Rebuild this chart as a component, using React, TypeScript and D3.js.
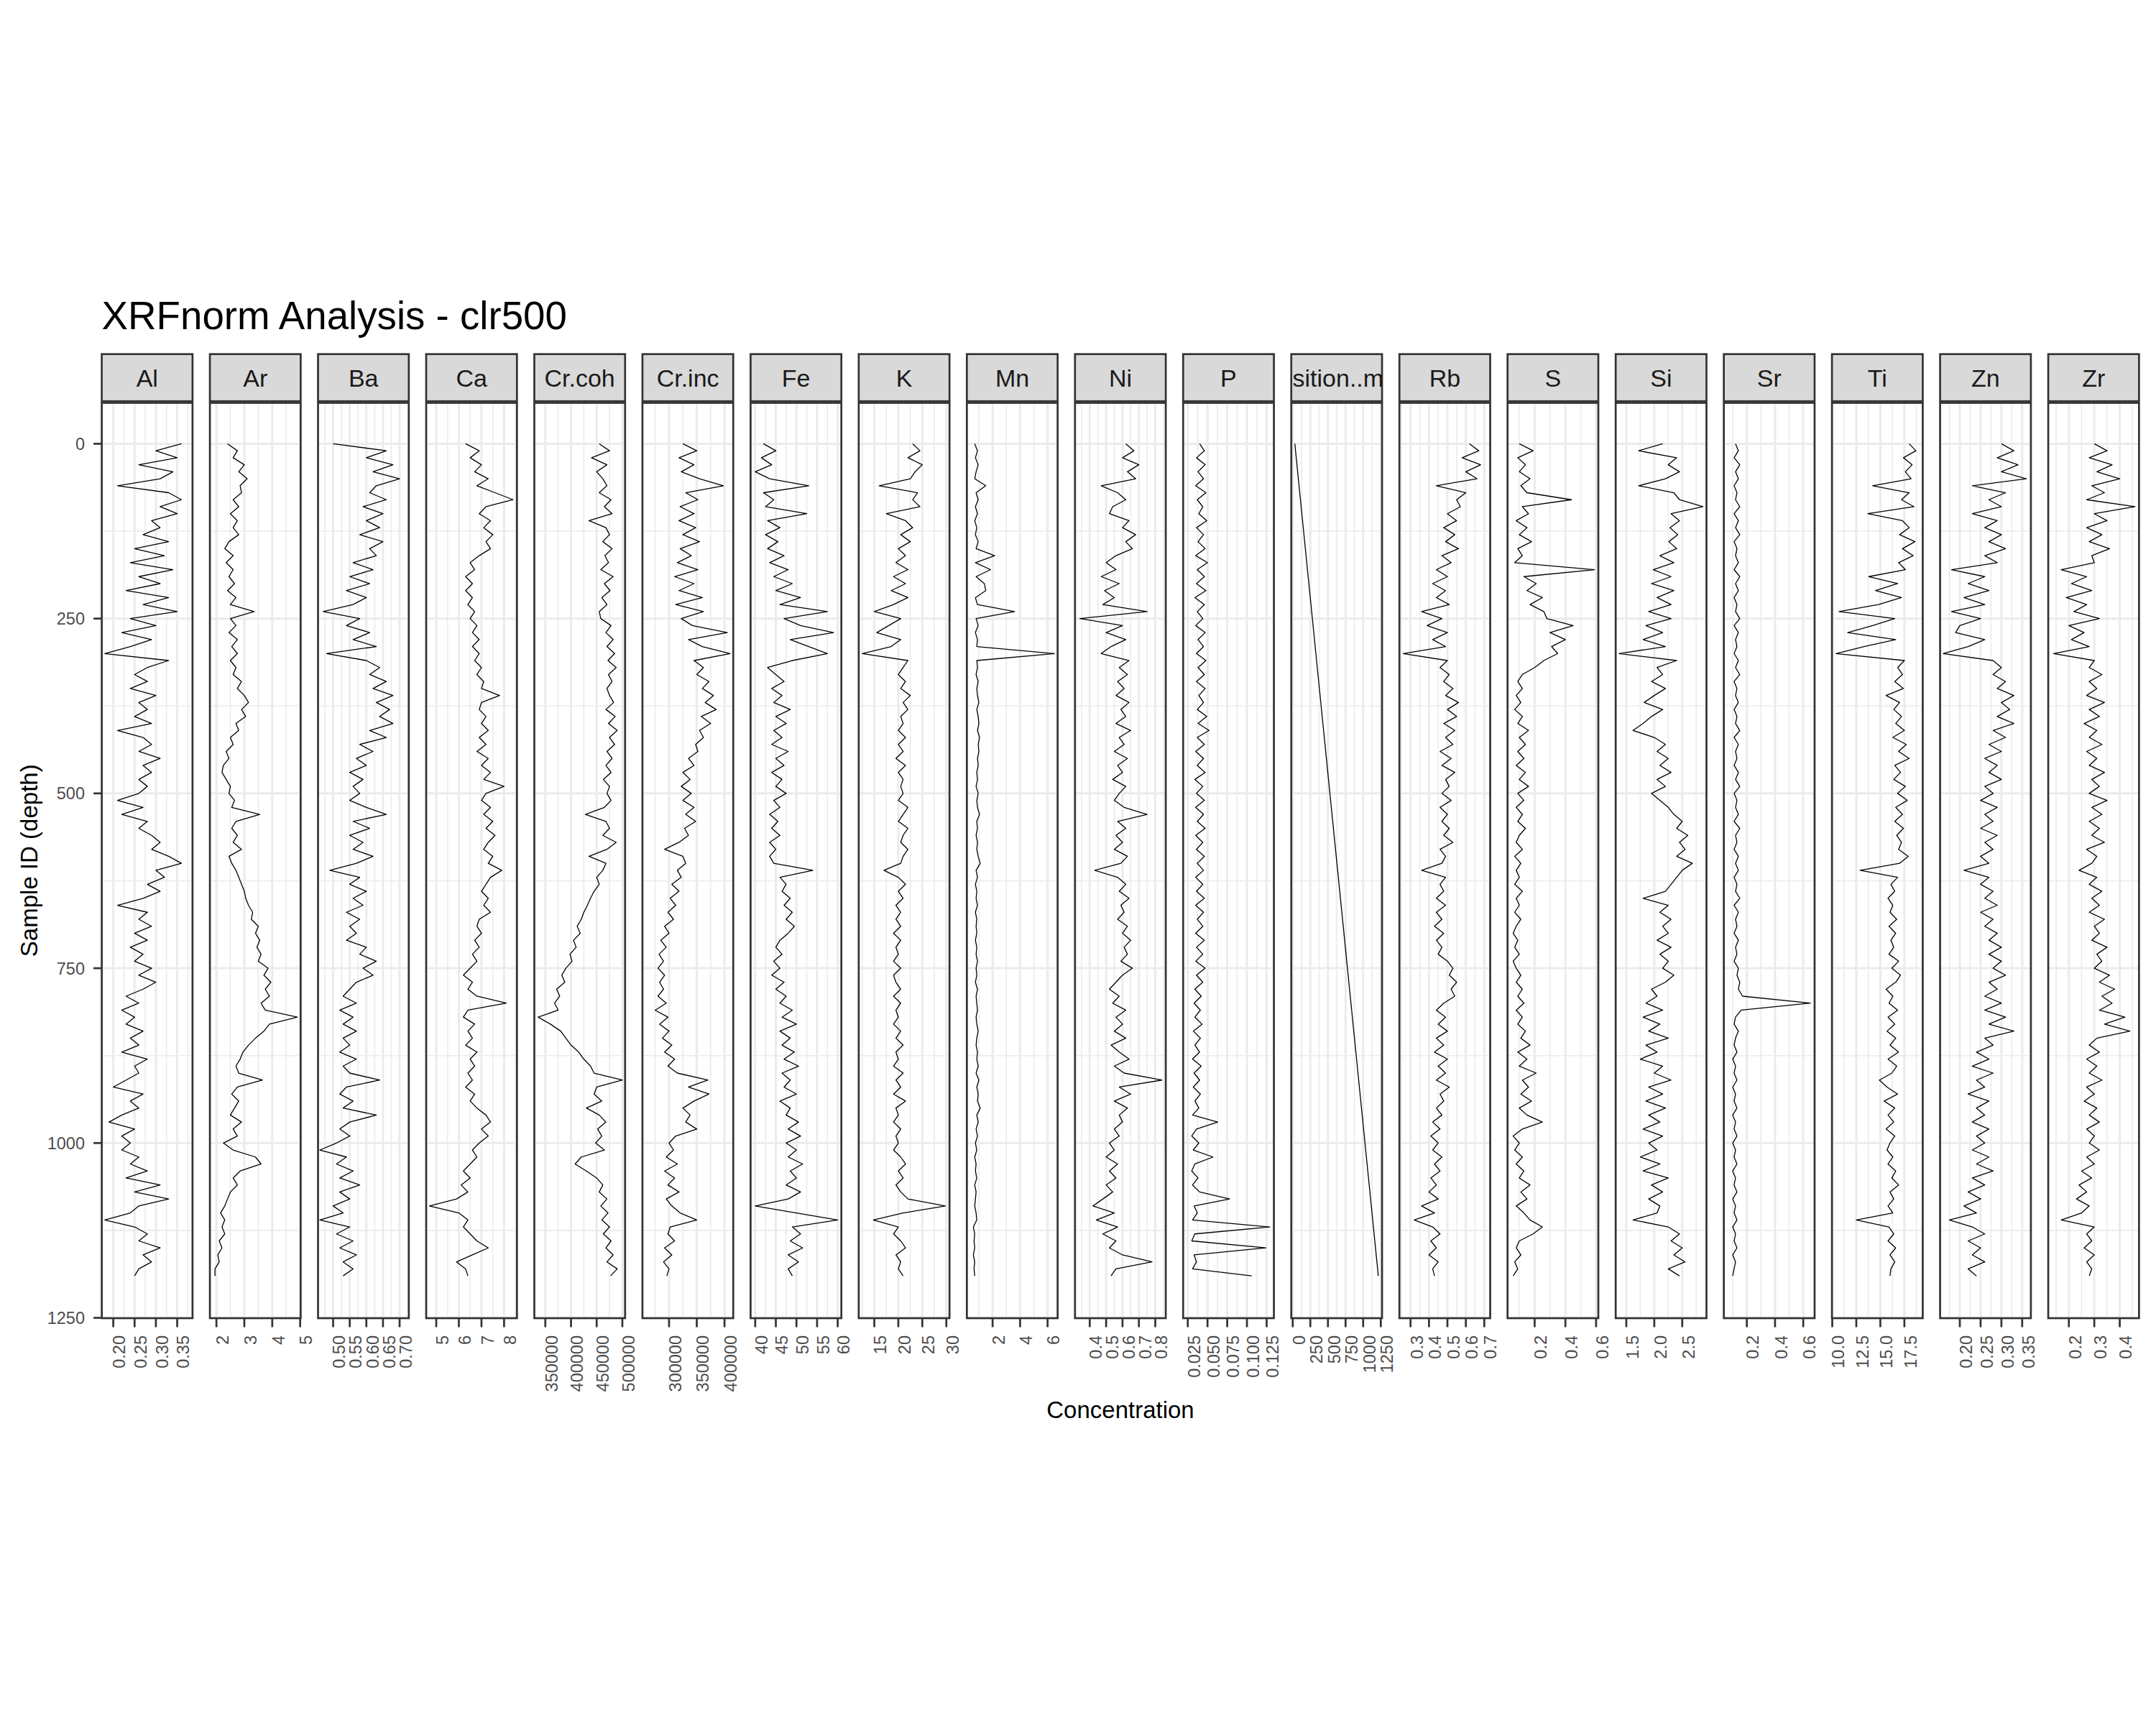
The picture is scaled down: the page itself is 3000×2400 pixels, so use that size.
import React from 'react';
import * as d3 from 'd3';

// Sample IDs (depth) on the y axis
const sampleIds = [
  0, 10, 20, 30, 40, 50, 60, 70, 80, 90,
  100, 110, 120, 130, 140, 150, 160, 170, 180, 190,
  200, 210, 220, 230, 240, 250, 260, 270, 280, 290,
  300, 310, 320, 330, 340, 350, 360, 370, 380, 390,
  400, 410, 420, 430, 440, 450, 460, 470, 480, 490,
  500, 510, 520, 530, 540, 550, 560, 570, 580, 590,
  600, 610, 620, 630, 640, 650, 660, 670, 680, 690,
  700, 710, 720, 730, 740, 750, 760, 770, 780, 790,
  800, 810, 820, 830, 840, 850, 860, 870, 880, 890,
  900, 910, 920, 930, 940, 950, 960, 970, 980, 990,
  1000, 1010, 1020, 1030, 1040, 1050, 1060, 1070, 1080, 1090,
  1100, 1110, 1120, 1130, 1140, 1150, 1160, 1170, 1180, 1190,
];

const alValues = [
  0.36, 0.30, 0.35, 0.26, 0.34, 0.31, 0.21, 0.33, 0.36, 0.31,
  0.35, 0.29, 0.31, 0.27, 0.33, 0.25, 0.32, 0.24, 0.34, 0.26,
  0.31, 0.23, 0.33, 0.27, 0.35, 0.24, 0.30, 0.22, 0.29, 0.24,
  0.18, 0.33, 0.28, 0.25, 0.28, 0.24, 0.30, 0.26, 0.28, 0.25,
  0.29, 0.21, 0.27, 0.29, 0.26, 0.31, 0.27, 0.29, 0.26, 0.28,
  0.26, 0.21, 0.27, 0.22, 0.28, 0.26, 0.29, 0.31, 0.29, 0.33,
  0.36, 0.30, 0.32, 0.28, 0.31, 0.27, 0.21, 0.28, 0.26, 0.29,
  0.25, 0.28, 0.24, 0.27, 0.25, 0.29, 0.26, 0.30, 0.27, 0.23,
  0.26, 0.22, 0.25, 0.23, 0.27, 0.24, 0.26, 0.22, 0.28, 0.25,
  0.26, 0.23, 0.20, 0.27, 0.24, 0.26, 0.22, 0.19, 0.25, 0.22,
  0.24, 0.22, 0.26, 0.24, 0.28, 0.23, 0.31, 0.25, 0.33, 0.26,
  0.24, 0.18, 0.25, 0.28, 0.26, 0.31, 0.27, 0.29, 0.26, 0.25,
];

const arValues = [
  2.4, 2.75, 2.6, 3.0, 2.8, 3.1, 2.85, 2.9, 2.6, 2.8,
  2.5, 2.75, 2.6, 2.8, 2.45, 2.3, 2.6, 2.35, 2.6, 2.45,
  2.65, 2.4, 2.7, 2.5, 3.35, 2.5, 2.7, 2.45, 2.75, 2.55,
  2.75, 2.5, 2.7, 2.6, 2.9, 2.75, 3.0, 3.15, 2.9, 3.05,
  2.7, 2.8, 2.5, 2.6, 2.35, 2.45, 2.25, 2.2, 2.35, 2.5,
  2.45, 2.65, 2.55, 3.55, 2.7, 2.55, 2.75, 2.6, 2.9, 2.45,
  2.55, 2.7, 2.8, 2.9, 3.0, 3.05, 3.15, 3.3, 3.25, 3.5,
  3.4, 3.55, 3.45, 3.6, 3.5, 3.85, 3.7, 3.95, 3.75, 3.9,
  3.6, 3.75, 4.9, 3.9, 3.7, 3.4, 3.15, 2.95, 2.85, 2.7,
  2.8, 3.65, 2.75, 2.55, 2.8, 2.65, 2.5, 2.9, 2.6, 2.75,
  2.25, 2.6, 3.4, 3.6, 2.85, 2.6, 2.75, 2.5, 2.4, 2.3,
  2.15, 2.3, 2.2, 2.3, 2.1, 2.2, 2.05, 2.1, 1.95, 1.95,
];

const baValues = [
  0.50, 0.66, 0.60, 0.68, 0.62, 0.70, 0.63, 0.61, 0.66, 0.59,
  0.65, 0.60, 0.64, 0.58, 0.65, 0.61, 0.63, 0.56, 0.62, 0.55,
  0.61, 0.54, 0.60, 0.56, 0.47, 0.58, 0.54, 0.61, 0.56, 0.63,
  0.48, 0.60, 0.64, 0.61, 0.66, 0.62, 0.68, 0.63, 0.67, 0.64,
  0.68, 0.61, 0.66, 0.58, 0.62, 0.57, 0.60, 0.55, 0.59, 0.56,
  0.58, 0.55, 0.60, 0.66, 0.56, 0.61, 0.55, 0.59, 0.56, 0.62,
  0.57, 0.49, 0.58, 0.55, 0.60, 0.56, 0.59, 0.54, 0.58, 0.55,
  0.57, 0.54, 0.60, 0.58, 0.63, 0.59, 0.62, 0.57, 0.55, 0.53,
  0.57, 0.52, 0.56, 0.53, 0.57, 0.53, 0.55, 0.52, 0.57, 0.53,
  0.55, 0.64, 0.54, 0.52, 0.56, 0.53, 0.63, 0.55, 0.52, 0.55,
  0.51, 0.46, 0.54, 0.51, 0.56, 0.52, 0.58, 0.52, 0.55, 0.50,
  0.53, 0.46, 0.55, 0.51, 0.56, 0.52, 0.57, 0.53, 0.56, 0.53,
];

const caValues = [
  6.3, 6.9, 6.5, 7.0, 6.7, 7.3, 6.8, 7.6, 8.4, 7.2,
  6.9, 7.4, 7.1, 7.5, 7.2, 7.4, 6.9, 6.5, 6.7, 6.3,
  6.6, 6.3, 6.6, 6.4, 6.7, 6.5, 6.8, 6.6, 6.9, 6.6,
  6.9, 6.7, 7.0, 6.8, 7.1, 7.0, 7.8, 7.0, 6.9, 7.2,
  7.0, 7.3, 6.9, 7.2, 6.8, 7.3, 7.0, 7.4, 7.1, 8.0,
  7.2, 7.0, 7.4, 7.1, 7.5, 7.2, 7.6, 7.3, 7.1, 7.5,
  7.3, 7.9, 7.4, 7.2, 7.0, 7.3, 7.1, 7.4, 6.9, 6.8,
  7.0, 6.7, 6.9, 6.6, 6.8, 6.5, 6.2, 6.6, 6.4, 6.8,
  8.1, 6.4, 6.2, 6.7, 6.4, 6.6, 6.3, 6.8, 6.5, 6.7,
  6.4, 6.6, 6.3, 6.7, 6.5, 6.8, 7.2, 7.4, 7.0, 7.3,
  6.9, 6.6, 6.8, 6.5, 6.2, 6.5, 6.1, 6.4, 5.9, 4.7,
  6.0, 6.4, 6.2, 6.5, 6.8, 7.3, 6.6, 5.9, 6.3, 6.4,
];

const crCohValues = [
  455000, 475000, 440000, 470000, 450000, 462000, 470000, 455000, 478000, 465000,
  480000, 435000, 468000, 475000, 462000, 480000, 466000, 473000, 458000, 482000,
  465000, 476000, 460000, 470000, 455000, 458000, 478000, 468000, 482000, 470000,
  485000, 472000, 488000, 473000, 480000, 470000, 475000, 483000, 468000, 486000,
  473000, 490000, 475000, 485000, 470000, 480000, 468000, 478000, 463000, 475000,
  470000, 478000, 465000, 428000, 468000, 475000, 462000, 488000, 470000, 435000,
  468000, 462000, 450000, 455000, 445000, 438000, 432000, 425000, 420000, 412000,
  418000, 405000, 410000, 398000, 402000, 390000, 382000, 388000, 372000, 378000,
  368000, 375000, 336000, 360000, 380000, 390000, 400000, 415000, 425000, 438000,
  445000, 500000, 450000, 445000, 460000, 430000, 455000, 468000, 452000, 460000,
  448000, 465000, 420000, 408000, 430000, 450000, 462000, 455000, 470000, 458000,
  472000, 460000, 475000, 463000, 478000, 468000, 482000, 470000, 490000, 477000,
];

const crIncValues = [
  325000, 350000, 318000, 345000, 322000, 355000, 398000, 330000, 352000, 320000,
  345000, 318000, 348000, 325000, 355000, 320000, 340000, 315000, 352000, 310000,
  345000, 318000, 360000, 312000, 362000, 322000, 342000, 405000, 335000, 360000,
  410000, 345000, 362000, 350000, 372000, 360000, 380000, 365000, 385000, 358000,
  375000, 355000, 362000, 348000, 352000, 335000, 345000, 325000, 338000, 322000,
  340000, 325000, 345000, 330000, 348000, 328000, 335000, 318000, 292000, 325000,
  330000, 315000, 322000, 305000, 318000, 302000, 312000, 298000, 308000, 292000,
  300000, 285000, 295000, 282000, 290000, 280000, 292000, 283000, 290000, 280000,
  295000, 275000, 298000, 283000, 300000, 288000, 305000, 292000, 310000, 298000,
  315000, 370000, 335000, 372000, 345000, 325000, 338000, 330000, 350000, 312000,
  300000, 308000, 295000, 315000, 292000, 310000, 298000, 318000, 295000, 305000,
  320000, 350000, 302000, 298000, 310000, 292000, 305000, 290000, 300000, 296000,
];

const feValues = [
  42, 45, 41.5, 44, 40, 43.5, 53, 42, 44.5, 42.5,
  52.5, 43, 46, 42.5, 45.5, 43, 47, 43.5, 48, 44.5,
  49, 45, 51, 46, 57.5, 47, 51, 59, 48.5, 53,
  57.5, 49, 43, 45, 47, 44, 46.5, 44.5, 48.5, 45,
  47.5, 44.5, 46.5, 44, 48, 45, 47, 44, 46.5, 45,
  47.5, 44.5, 46, 43.5, 45.5, 44, 46, 43.5, 45, 43.5,
  44.5, 54, 46, 47.5, 46.5, 48.5, 47, 49, 47.5, 49.5,
  48, 46, 45, 46.5, 44.5, 46, 44, 47, 45, 47.5,
  46, 49, 46.5, 50, 46, 48.5, 46.5, 49.5, 47, 50.5,
  46.5, 48.5, 47, 50, 46, 48.5, 47.5, 50.5, 48, 51,
  47.5, 50, 48, 51.5, 48.5, 50, 47.5, 51, 48, 40,
  50, 60, 49, 51, 48.5, 51.5, 48, 50.5, 48, 49,
];

const kValues = [
  23, 24.5, 22, 25, 23.5, 22.5, 16, 24, 23, 24.5,
  17.5, 21.5, 23, 20.5, 22.5, 20, 21.5, 19.5, 22, 19,
  21.5, 18.5, 22, 19, 15, 20.5, 18, 15.5, 20.5, 18.5,
  12.5, 22, 21, 20, 21.5, 20.5, 22.5, 21, 22, 20.5,
  21, 20, 21.5, 20, 21, 19.5, 21.5, 20, 21, 20.5,
  21, 20, 22, 21, 20, 22, 21, 20.5, 22, 21,
  20.5, 17, 20, 21.5, 20, 21, 19.5, 20.5, 19.5, 20.5,
  19, 20.5, 19.5, 20, 19, 20.5, 19, 19.5, 20.5, 19,
  20.5, 19.5, 20, 19, 20.5, 19.5, 21, 19.5, 20, 19,
  21, 19.5, 20.5, 19, 21.5, 19.5, 20, 19, 20.5, 19.5,
  20, 19, 20.5, 21.5, 20, 21, 19.5, 20.5, 22, 29.8,
  21, 14.8, 20, 19, 20.5, 21.5, 19.5, 20.5, 20, 21,
];

const mnValues = [
  0.7, 0.9, 0.75, 0.95, 0.8, 0.7, 1.5, 0.8, 0.95, 0.75,
  0.9, 0.7, 0.85, 0.75, 0.95, 0.8, 2.15, 0.75, 1.85, 0.8,
  1.4, 1.5, 0.75, 0.9, 3.6, 0.8, 0.95, 0.75, 0.9, 0.85,
  6.5, 0.85, 0.9, 0.8, 0.95, 0.85, 0.9, 1.0, 0.85, 0.95,
  1.0, 0.9, 1.05, 0.95, 1.0, 0.9, 0.95, 0.85, 0.9, 0.8,
  0.95, 0.85, 0.9, 1.05, 0.85, 0.9, 0.8, 0.9, 0.85, 0.95,
  1.1, 0.8, 0.9, 0.75, 0.85, 0.8, 0.9, 0.75, 0.85, 0.8,
  0.85, 0.75, 0.85, 0.8, 0.9, 0.8, 0.85, 0.75, 0.9, 0.8,
  0.85, 0.9, 0.8, 0.85, 0.95, 0.85, 0.8, 0.9, 0.85, 0.95,
  0.8, 1.0, 0.85, 0.95, 0.9, 1.1, 0.85, 0.95, 0.8, 0.9,
  0.75, 0.85, 0.7, 0.8, 0.75, 0.85, 0.7, 0.8, 0.75, 0.7,
  0.8, 0.85, 0.6, 0.7, 0.65, 0.7, 0.6, 0.7, 0.65, 0.7,
];

const niValues = [
  0.62, 0.67, 0.60, 0.70, 0.63, 0.68, 0.47, 0.57, 0.62, 0.54,
  0.52, 0.64, 0.60, 0.68, 0.62, 0.66, 0.56, 0.50, 0.56, 0.47,
  0.58, 0.49, 0.55, 0.48, 0.75, 0.34, 0.60, 0.50, 0.62, 0.53,
  0.47, 0.64, 0.58, 0.63, 0.57, 0.61, 0.56, 0.64, 0.59, 0.62,
  0.56, 0.65, 0.58, 0.61, 0.55, 0.63, 0.57, 0.60, 0.54, 0.62,
  0.58, 0.55, 0.61, 0.75, 0.57, 0.62, 0.56, 0.60, 0.55, 0.63,
  0.59, 0.43, 0.57, 0.62, 0.58, 0.64, 0.59, 0.61, 0.57, 0.63,
  0.60, 0.65, 0.61, 0.63, 0.59, 0.66, 0.60, 0.56, 0.52, 0.58,
  0.54, 0.62, 0.56, 0.60, 0.55, 0.62, 0.53, 0.58, 0.64, 0.55,
  0.61, 0.84, 0.58, 0.65, 0.55, 0.63, 0.58, 0.60, 0.55, 0.58,
  0.52, 0.55, 0.50, 0.57, 0.52, 0.56, 0.50, 0.54, 0.48, 0.42,
  0.55, 0.44, 0.57, 0.48, 0.56, 0.52, 0.60, 0.78, 0.56, 0.53,
];

const pValues = [
  0.040, 0.046, 0.036, 0.047, 0.038, 0.045, 0.035, 0.048, 0.037, 0.044,
  0.039, 0.049, 0.036, 0.045, 0.038, 0.047, 0.035, 0.050, 0.037, 0.046,
  0.036, 0.048, 0.034, 0.046, 0.037, 0.044, 0.035, 0.047, 0.038, 0.045,
  0.036, 0.048, 0.038, 0.046, 0.036, 0.047, 0.039, 0.045, 0.037, 0.049,
  0.038, 0.052, 0.037, 0.046, 0.035, 0.045, 0.037, 0.047, 0.034, 0.044,
  0.036, 0.046, 0.035, 0.045, 0.037, 0.047, 0.035, 0.044, 0.036, 0.046,
  0.037, 0.045, 0.035, 0.044, 0.036, 0.046, 0.035, 0.045, 0.037, 0.044,
  0.035, 0.046, 0.036, 0.044, 0.035, 0.047, 0.036, 0.044, 0.034, 0.042,
  0.033, 0.041, 0.034, 0.043, 0.032, 0.041, 0.034, 0.040, 0.031, 0.042,
  0.033, 0.040, 0.032, 0.041, 0.034, 0.039, 0.031, 0.063, 0.036, 0.030,
  0.039, 0.032, 0.057, 0.034, 0.030, 0.038, 0.031, 0.040, 0.078, 0.033,
  0.037, 0.031, 0.129, 0.034, 0.030, 0.124, 0.033, 0.036, 0.031, 0.106,
];

// position column is a straight line, so only its two ends are kept
const positionIds = [0, 1190];
const positionValues = [30, 1215];

const rbValues = [
  0.62, 0.67, 0.58, 0.68, 0.60, 0.66, 0.44, 0.60, 0.55, 0.57,
  0.50, 0.55, 0.48, 0.54, 0.49, 0.56, 0.47, 0.52, 0.44, 0.50,
  0.42, 0.49, 0.44, 0.51, 0.36, 0.47, 0.39, 0.50, 0.42, 0.49,
  0.26, 0.50, 0.46, 0.51, 0.48, 0.53, 0.49, 0.56, 0.50, 0.55,
  0.48, 0.54, 0.49, 0.53, 0.46, 0.52, 0.47, 0.54, 0.49, 0.51,
  0.47, 0.52, 0.46, 0.50, 0.47, 0.51, 0.48, 0.53, 0.46, 0.49,
  0.47, 0.36, 0.49, 0.46, 0.48, 0.44, 0.49, 0.44, 0.47, 0.43,
  0.48, 0.44, 0.47, 0.45, 0.50, 0.53, 0.51, 0.55, 0.52, 0.54,
  0.48, 0.44, 0.49, 0.45, 0.50, 0.44, 0.48, 0.43, 0.50, 0.45,
  0.49, 0.44, 0.51, 0.46, 0.48, 0.44, 0.47, 0.42, 0.46, 0.41,
  0.45, 0.42, 0.47, 0.43, 0.46, 0.41, 0.44, 0.40, 0.45, 0.36,
  0.43, 0.32, 0.42, 0.46, 0.41, 0.44, 0.40, 0.45, 0.42, 0.43,
];

const sValues = [
  0.10, 0.19, 0.09, 0.14, 0.10, 0.17, 0.11, 0.15, 0.44, 0.12,
  0.16, 0.08, 0.15, 0.10, 0.18, 0.09, 0.12, 0.07, 0.59, 0.13,
  0.21, 0.15, 0.25, 0.17, 0.26, 0.28, 0.45, 0.30, 0.40, 0.31,
  0.35, 0.26, 0.20, 0.12, 0.09, 0.12, 0.08, 0.11, 0.07, 0.12,
  0.09, 0.16, 0.10, 0.14, 0.09, 0.13, 0.08, 0.14, 0.10, 0.16,
  0.09, 0.13, 0.08, 0.12, 0.09, 0.14, 0.10, 0.08, 0.12, 0.07,
  0.11, 0.08, 0.10, 0.07, 0.12, 0.08, 0.10, 0.07, 0.11, 0.08,
  0.06, 0.09, 0.07, 0.10, 0.06, 0.08, 0.11, 0.08, 0.12, 0.09,
  0.13, 0.08, 0.12, 0.09, 0.14, 0.11, 0.17, 0.09, 0.15, 0.10,
  0.21, 0.12, 0.16, 0.11, 0.18, 0.10, 0.15, 0.25, 0.12, 0.06,
  0.10, 0.07, 0.12, 0.08, 0.13, 0.10, 0.17, 0.11, 0.15, 0.08,
  0.13, 0.17, 0.25, 0.19, 0.10, 0.08, 0.11, 0.07, 0.09, 0.06,
];

const siValues = [
  2.15, 1.72, 2.40, 2.25, 2.45, 2.20, 1.72, 2.35, 2.45, 2.87,
  2.30, 2.45, 2.28, 2.42, 2.26, 2.40, 2.10, 2.35, 1.98, 2.30,
  1.95, 2.35, 2.05, 2.30, 1.90, 2.30, 1.85, 2.15, 1.80, 2.20,
  1.37, 2.40, 2.05, 2.15, 1.95, 2.20, 2.00, 1.82, 2.15, 1.95,
  1.80, 1.62, 2.00, 2.20, 2.05, 2.25, 2.10, 2.30, 2.05, 2.20,
  1.95, 2.10, 2.25, 2.35, 2.50, 2.40, 2.60, 2.45, 2.55, 2.40,
  2.68, 2.50, 2.40, 2.30, 2.20, 1.80, 2.25, 2.10, 2.30, 2.15,
  2.25, 2.05, 2.30, 2.10, 2.25, 2.15, 2.35, 2.20, 1.95, 2.05,
  1.85, 2.15, 1.80, 2.10, 1.90, 2.25, 1.85, 2.05, 1.75, 2.15,
  2.00, 2.30, 1.90, 2.15, 1.85, 2.20, 1.90, 2.10, 1.80, 2.15,
  1.90, 2.05, 1.75, 2.10, 1.80, 2.25, 1.95, 2.15, 1.90, 2.10,
  2.05, 1.62, 2.25, 2.45, 2.30, 2.50, 2.35, 2.55, 2.25, 2.45,
];

const srValues = [
  0.12, 0.14, 0.11, 0.15, 0.12, 0.14, 0.11, 0.13, 0.12, 0.15,
  0.11, 0.14, 0.12, 0.15, 0.11, 0.13, 0.12, 0.14, 0.11, 0.15,
  0.12, 0.14, 0.11, 0.13, 0.12, 0.15, 0.11, 0.14, 0.12, 0.13,
  0.11, 0.14, 0.12, 0.15, 0.11, 0.13, 0.12, 0.14, 0.11, 0.13,
  0.12, 0.15, 0.11, 0.14, 0.12, 0.13, 0.11, 0.14, 0.12, 0.15,
  0.11, 0.13, 0.12, 0.14, 0.11, 0.15, 0.12, 0.13, 0.11, 0.14,
  0.12, 0.14, 0.11, 0.13, 0.12, 0.15, 0.11, 0.14, 0.12, 0.13,
  0.11, 0.14, 0.12, 0.13, 0.11, 0.14, 0.13, 0.15, 0.14, 0.17,
  0.65, 0.16, 0.12, 0.11, 0.14, 0.12, 0.11, 0.13, 0.10, 0.12,
  0.11, 0.13, 0.10, 0.12, 0.11, 0.13, 0.10, 0.12, 0.11, 0.13,
  0.10, 0.12, 0.11, 0.13, 0.10, 0.12, 0.11, 0.13, 0.10, 0.12,
  0.11, 0.13, 0.10, 0.12, 0.11, 0.13, 0.10, 0.12, 0.11, 0.10,
];

const tiValues = [
  18.0, 18.7, 17.4, 18.3, 17.6, 18.2, 14.2, 18.0, 17.2, 18.5,
  13.7, 17.3, 18.0, 17.0, 18.6, 17.3, 18.4, 16.9, 17.6, 13.8,
  16.8, 14.5, 17.2, 14.8, 10.7, 16.5, 14.2, 11.6, 16.6, 13.3,
  10.4, 17.5, 16.8, 17.3, 16.5, 17.4, 15.6, 17.0, 16.4, 17.2,
  16.6, 17.5, 16.3, 17.7, 16.9, 18.0, 16.5, 17.1, 16.4, 17.6,
  16.8, 17.8, 16.6, 17.3, 16.5, 17.4, 16.7, 17.2, 16.9, 17.9,
  17.0, 12.9, 16.8, 16.1, 16.5, 15.8, 16.3, 16.0, 16.7, 15.9,
  16.6, 16.1, 16.4, 15.9, 16.9, 16.2, 17.1, 16.6, 15.6, 16.3,
  15.9, 16.8, 15.8, 16.5, 15.7, 16.6, 16.0, 16.9, 15.8, 16.7,
  16.2, 14.9, 15.7, 16.8, 15.4, 16.5, 15.8, 16.4, 15.6, 16.5,
  16.0, 15.7, 16.3, 15.8, 16.6, 16.2, 16.9, 16.0, 16.4, 15.8,
  16.3, 12.5, 15.9, 16.4, 15.8, 16.6, 16.0, 16.5, 16.1, 16.0,
];

const znValues = [
  0.30, 0.33, 0.29, 0.34, 0.30, 0.36, 0.23, 0.31, 0.27, 0.30,
  0.23, 0.29, 0.26, 0.30, 0.27, 0.31, 0.26, 0.29, 0.18, 0.26,
  0.22, 0.27, 0.21, 0.26, 0.18, 0.25, 0.20, 0.19, 0.26, 0.22,
  0.16, 0.28, 0.30, 0.28, 0.31, 0.29, 0.33, 0.30, 0.32, 0.29,
  0.33, 0.28, 0.31, 0.27, 0.30, 0.26, 0.29, 0.27, 0.30, 0.26,
  0.28, 0.25, 0.29, 0.26, 0.28, 0.25, 0.29, 0.26, 0.28, 0.25,
  0.27, 0.21, 0.27, 0.25, 0.28, 0.26, 0.29, 0.25, 0.28, 0.26,
  0.29, 0.27, 0.30, 0.27, 0.30, 0.28, 0.31, 0.27, 0.29, 0.26,
  0.30, 0.26, 0.31, 0.27, 0.33, 0.26, 0.28, 0.24, 0.27, 0.23,
  0.28, 0.24, 0.26, 0.22, 0.27, 0.24, 0.26, 0.23, 0.27, 0.24,
  0.26, 0.23, 0.27, 0.24, 0.28, 0.23, 0.26, 0.22, 0.25, 0.21,
  0.24, 0.175, 0.23, 0.26, 0.22, 0.25, 0.23, 0.26, 0.22, 0.24,
];

const zrValues = [
  0.30, 0.35, 0.28, 0.37, 0.31, 0.40, 0.29, 0.34, 0.27, 0.46,
  0.30, 0.35, 0.27, 0.33, 0.28, 0.36, 0.29, 0.30, 0.17, 0.27,
  0.21, 0.29, 0.19, 0.27, 0.22, 0.32, 0.20, 0.26, 0.21, 0.28,
  0.14, 0.30, 0.28, 0.33, 0.28, 0.31, 0.27, 0.34, 0.28, 0.32,
  0.26, 0.31, 0.28, 0.33, 0.27, 0.31, 0.28, 0.34, 0.29, 0.32,
  0.28, 0.35, 0.29, 0.33, 0.28, 0.32, 0.29, 0.34, 0.27, 0.31,
  0.29, 0.24, 0.31, 0.28, 0.33, 0.29, 0.32, 0.28, 0.34, 0.30,
  0.32, 0.29, 0.35, 0.31, 0.33, 0.30, 0.36, 0.32, 0.38, 0.33,
  0.37, 0.32, 0.42, 0.34, 0.44, 0.31, 0.28, 0.32, 0.27, 0.31,
  0.28, 0.33, 0.27, 0.30, 0.26, 0.31, 0.28, 0.32, 0.27, 0.30,
  0.28, 0.32, 0.27, 0.30, 0.25, 0.29, 0.24, 0.27, 0.23, 0.28,
  0.25, 0.17, 0.30, 0.27, 0.29, 0.26, 0.30, 0.27, 0.29, 0.28,
];

// axis limits per facet (free x scales)
const alLimits = [0.173, 0.386];
const arLimits = [1.767, 5.018];
const baLimits = [0.4546, 0.7277];
const caLimits = [4.555, 8.569];
const crCohLimits = [328571, 505322];
const crIncLimits = [252073, 415674];
const feLimits = [38.88, 60.89];
const kLimits = [11.75, 30.66];
const mnLimits = [0.128, 6.73];
const niLimits = [0.31, 0.864];
const pLimits = [0.0191, 0.1342];
const positionLimits = [-20.4, 1268];
const rbLimits = [0.2396, 0.732];
const sLimits = [0.0236, 0.6145];
const siLimits = [1.31, 2.933];
const srLimits = [0.037, 0.6805];
const tiLimits = [9.97, 19.41];
const znLimits = [0.1526, 0.3709];
const zrLimits = [0.119, 0.4757];

const alTicks = [0.2, 0.25, 0.3, 0.35];
const alTickLabels = ['0.20', '0.25', '0.30', '0.35'];
const arTicks = [2, 3, 4, 5];
const arTickLabels = ['2', '3', '4', '5'];
const baTicks = [0.5, 0.55, 0.6, 0.65, 0.7];
const baTickLabels = ['0.50', '0.55', '0.60', '0.65', '0.70'];
const caTicks = [5, 6, 7, 8];
const caTickLabels = ['5', '6', '7', '8'];
const crCohTicks = [350000, 400000, 450000, 500000];
const crCohTickLabels = ['350000', '400000', '450000', '500000'];
const crIncTicks = [300000, 350000, 400000];
const crIncTickLabels = ['300000', '350000', '400000'];
const feTicks = [40, 45, 50, 55, 60];
const feTickLabels = ['40', '45', '50', '55', '60'];
const kTicks = [15, 20, 25, 30];
const kTickLabels = ['15', '20', '25', '30'];
const mnTicks = [2, 4, 6];
const mnTickLabels = ['2', '4', '6'];
const niTicks = [0.4, 0.5, 0.6, 0.7, 0.8];
const niTickLabels = ['0.4', '0.5', '0.6', '0.7', '0.8'];
const pTicks = [0.025, 0.05, 0.075, 0.1, 0.125];
const pTickLabels = ['0.025', '0.050', '0.075', '0.100', '0.125'];
const positionTicks = [0, 250, 500, 750, 1000, 1250];
const positionTickLabels = ['0', '250', '500', '750', '1000', '1250'];
const rbTicks = [0.3, 0.4, 0.5, 0.6, 0.7];
const rbTickLabels = ['0.3', '0.4', '0.5', '0.6', '0.7'];
const sTicks = [0.2, 0.4, 0.6];
const sTickLabels = ['0.2', '0.4', '0.6'];
const siTicks = [1.5, 2.0, 2.5];
const siTickLabels = ['1.5', '2.0', '2.5'];
const srTicks = [0.2, 0.4, 0.6];
const srTickLabels = ['0.2', '0.4', '0.6'];
const tiTicks = [10, 12.5, 15, 17.5];
const tiTickLabels = ['10.0', '12.5', '15.0', '17.5'];
const znTicks = [0.2, 0.25, 0.3, 0.35];
const znTickLabels = ['0.20', '0.25', '0.30', '0.35'];
const zrTicks = [0.2, 0.3, 0.4];
const zrTickLabels = ['0.2', '0.3', '0.4'];

const depthLimits = [-58.5, 1250.5];
const depthTicks = [0, 250, 500, 750, 1000, 1250];
const depthTickLabels = ['0', '250', '500', '750', '1000', '1250'];
const depthMinor = [125, 375, 625, 875, 1125];

const panels = [
  { name: 'Al', ids: sampleIds, values: alValues, limits: alLimits, ticks: alTicks, labels: alTickLabels },
  { name: 'Ar', ids: sampleIds, values: arValues, limits: arLimits, ticks: arTicks, labels: arTickLabels },
  { name: 'Ba', ids: sampleIds, values: baValues, limits: baLimits, ticks: baTicks, labels: baTickLabels },
  { name: 'Ca', ids: sampleIds, values: caValues, limits: caLimits, ticks: caTicks, labels: caTickLabels },
  { name: 'Cr.coh', ids: sampleIds, values: crCohValues, limits: crCohLimits, ticks: crCohTicks, labels: crCohTickLabels },
  { name: 'Cr.inc', ids: sampleIds, values: crIncValues, limits: crIncLimits, ticks: crIncTicks, labels: crIncTickLabels },
  { name: 'Fe', ids: sampleIds, values: feValues, limits: feLimits, ticks: feTicks, labels: feTickLabels },
  { name: 'K', ids: sampleIds, values: kValues, limits: kLimits, ticks: kTicks, labels: kTickLabels },
  { name: 'Mn', ids: sampleIds, values: mnValues, limits: mnLimits, ticks: mnTicks, labels: mnTickLabels },
  { name: 'Ni', ids: sampleIds, values: niValues, limits: niLimits, ticks: niTicks, labels: niTickLabels },
  { name: 'P', ids: sampleIds, values: pValues, limits: pLimits, ticks: pTicks, labels: pTickLabels },
  { name: 'Position..mm.', ids: positionIds, values: positionValues, limits: positionLimits, ticks: positionTicks, labels: positionTickLabels },
  { name: 'Rb', ids: sampleIds, values: rbValues, limits: rbLimits, ticks: rbTicks, labels: rbTickLabels },
  { name: 'S', ids: sampleIds, values: sValues, limits: sLimits, ticks: sTicks, labels: sTickLabels },
  { name: 'Si', ids: sampleIds, values: siValues, limits: siLimits, ticks: siTicks, labels: siTickLabels },
  { name: 'Sr', ids: sampleIds, values: srValues, limits: srLimits, ticks: srTicks, labels: srTickLabels },
  { name: 'Ti', ids: sampleIds, values: tiValues, limits: tiLimits, ticks: tiTicks, labels: tiTickLabels },
  { name: 'Zn', ids: sampleIds, values: znValues, limits: znLimits, ticks: znTicks, labels: znTickLabels },
  { name: 'Zr', ids: sampleIds, values: zrValues, limits: zrLimits, ticks: zrTicks, labels: zrTickLabels },
];

const FONT = '"Liberation Sans", Arial, Helvetica, sans-serif';

// layout
const plotLeft = 141.6;
const panelW = 126.3;
const pitch = 150.47;
const panelTop = 560.5;
const panelBottom = 1834;
const stripTop = 492.7;
const stripBottom = 558.3;

// ggplot-like minor breaks: midpoints of the majors, plus one step outside each end
const minorBreaks = (ticks: number[], lim: number[]) => {
  const step = ticks.length > 1 ? ticks[1] - ticks[0] : 0;
  const out: number[] = [ticks[0] - step / 2];
  for (let i = 0; i < ticks.length - 1; i++) out.push((ticks[i] + ticks[i + 1]) / 2);
  out.push(ticks[ticks.length - 1] + step / 2);
  return out.filter(v => v >= lim[0] && v <= lim[1]);
};

const App = () => {
  const y = d3.scaleLinear().domain(depthLimits).range([panelTop, panelBottom]);

  return (
    <svg width={3000} height={2400} style={{ position: 'absolute', left: 0, top: 0, background: '#fff' }}
      fontFamily={FONT}>
      <rect x={0} y={0} width={3000} height={2400} fill="#fff" />
      <text x={141.6} y={458} fontSize={54.7} fill="#000">XRFnorm Analysis - clr500</text>

      {panels.map((p, i) => {
        const left = plotLeft + i * pitch;
        const x = d3.scaleLinear().domain(p.limits).range([left, left + panelW]);
        const line = d3.line<number>()
          .x(d => x(d))
          .y((d, j) => y(p.ids[j]));
        const minors = minorBreaks(p.ticks, p.limits);
        const cx = left + panelW / 2;
        return (
          <g key={p.name}>
            <defs>
              <clipPath id={`panel-clip-${i}`}>
                <rect x={left} y={panelTop} width={panelW} height={panelBottom - panelTop} />
              </clipPath>
              <clipPath id={`strip-clip-${i}`}>
                <rect x={left} y={stripTop} width={panelW} height={stripBottom - stripTop} />
              </clipPath>
            </defs>
            <rect x={left} y={panelTop} width={panelW} height={panelBottom - panelTop} fill="#fff" />
            <g clipPath={`url(#panel-clip-${i})`}>
              {minors.map(v => (
                <line key={`vm${v}`} x1={x(v)} x2={x(v)} y1={panelTop} y2={panelBottom} stroke="#EBEBEB" strokeWidth={1.6} />
              ))}
              {depthMinor.map(v => (
                <line key={`hm${v}`} x1={left} x2={left + panelW} y1={y(v)} y2={y(v)} stroke="#EBEBEB" strokeWidth={1.6} />
              ))}
              {p.ticks.map(v => (
                <line key={`vM${v}`} x1={x(v)} x2={x(v)} y1={panelTop} y2={panelBottom} stroke="#EBEBEB" strokeWidth={3} />
              ))}
              {depthTicks.map(v => (
                <line key={`hM${v}`} x1={left} x2={left + panelW} y1={y(v)} y2={y(v)} stroke="#EBEBEB" strokeWidth={3} />
              ))}
              <path d={line(p.values) || ''} fill="none" stroke="#000" strokeWidth={1.3} strokeLinejoin="round" />
            </g>
            <rect x={left} y={panelTop} width={panelW} height={panelBottom - panelTop} fill="none" stroke="#333333" strokeWidth={2.7} />

            <rect x={left} y={stripTop} width={panelW} height={stripBottom - stripTop} fill="#D9D9D9" stroke="#333333" strokeWidth={2.7} />
            <g clipPath={`url(#strip-clip-${i})`}>
              <text x={cx} y={538} fontSize={34} fill="#1A1A1A" textAnchor="middle">{p.name}</text>
            </g>

            {p.ticks.map((v, k) => (
              <g key={`t${v}`}>
                <line x1={x(v)} x2={x(v)} y1={panelBottom} y2={panelBottom + 12.5} stroke="#333333" strokeWidth={2.7} />
                <text transform={`translate(${x(v) + 16.8},1858) rotate(-90)`} textAnchor="end" fontSize={23.5} fill="#4D4D4D">
                  {p.labels[k]}
                </text>
              </g>
            ))}
          </g>
        );
      })}

      {depthTicks.map((v, k) => (
        <g key={`y${v}`}>
          <line x1={plotLeft - 11.5} x2={plotLeft} y1={y(v)} y2={y(v)} stroke="#333333" strokeWidth={2.7} />
          <text x={118} y={y(v)} dy="0.36em" textAnchor="end" fontSize={23.5} fill="#4D4D4D">{depthTickLabels[k]}</text>
        </g>
      ))}

      <text transform={`translate(52,${(panelTop + panelBottom) / 2}) rotate(-90)`} textAnchor="middle" fontSize={33} fill="#000">
        Sample ID (depth)
      </text>
      <text x={(plotLeft + plotLeft + 18 * pitch + panelW) / 2} y={1973} textAnchor="middle" fontSize={33} fill="#000">
        Concentration
      </text>
    </svg>
  );
};

export default App;
